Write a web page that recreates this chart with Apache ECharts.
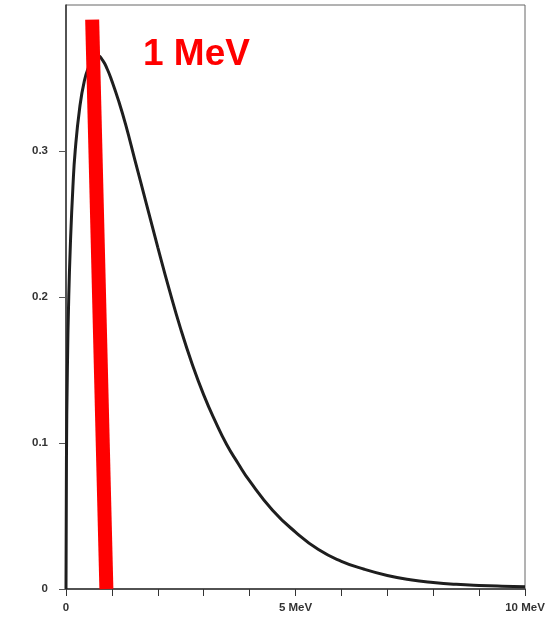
<!DOCTYPE html>
<html>
<head>
<meta charset="utf-8">
<script src="https://cdn.jsdelivr.net/npm/echarts@6/dist/echarts.min.js"></script>
<style>
html,body{margin:0;padding:0;background:#fff;}
#c{width:554px;height:619px;}
</style>
</head>
<body>
<div id="c"></div>
<script>
// Energy (MeV) and spectrum values
const energy = [0, 0.01, 0.03, 0.06, 0.1, 0.15, 0.2, 0.3, 0.4, 0.5, 0.6, 0.7, 0.8, 0.9, 1.0, 1.15, 1.3, 1.5, 1.75, 2.0, 2.25, 2.5, 2.75, 3.0, 3.25, 3.5, 3.75, 4.0, 4.5, 5.0, 5.5, 6.0, 6.5, 7.0, 7.5, 8.0, 8.5, 9.0, 9.5, 10.0];
const spectrum = [0, 0.09, 0.15, 0.20, 0.24, 0.275, 0.30, 0.33, 0.348, 0.358, 0.364, 0.365, 0.362, 0.356, 0.348, 0.334, 0.318, 0.294, 0.264, 0.234, 0.205, 0.178, 0.154, 0.133, 0.115, 0.099, 0.086, 0.074, 0.054, 0.039, 0.027, 0.019, 0.0135, 0.0093, 0.0064, 0.0045, 0.0032, 0.0024, 0.0019, 0.0016];
// Red marker bar (drawn slanted in the picture)
const markerX = [0.57, 0.88];
const markerY = [0.39, 0];
const markerLabel = '1 MeV';
const xTickLabels = {0: '0', 5: '5 MeV', 10: '10 MeV'};
const yTickLabels = {0: '0', 0.1: '0.1', 0.2: '0.2', 0.3: '0.3'};
const yTickValues = [0, 0.1, 0.2, 0.3];

const curveData = energy.map((e, i) => [e, spectrum[i]]);
const markerData = markerX.map((x, i) => [x, markerY[i]]);

const chart = echarts.init(document.getElementById('c'), null, {renderer: 'canvas'});
chart.setOption({
  animation: false,
  backgroundColor: '#fff',
  grid: {left: 66, right: 29, top: 5, bottom: 30, show: true, borderColor: '#666', borderWidth: 1},
  xAxis: {
    type: 'value', min: 0, max: 10, interval: 1,
    splitLine: {show: false},
    axisLine: {lineStyle: {color: '#333', width: 1.5}},
    axisTick: {length: 7, lineStyle: {color: '#333', width: 1}},
    axisLabel: {
      margin: 13, color: '#333', fontWeight: 'bold', fontSize: 11.5,
      fontFamily: 'Liberation Sans, Arial, sans-serif',
      formatter: v => (xTickLabels[Math.round(v * 1000) / 1000] ?? '')
    }
  },
  yAxis: {
    type: 'value', min: 0, max: 0.4, interval: 0.1,
    splitLine: {show: false},
    axisLine: {show: true, lineStyle: {color: '#333', width: 1.5}},
    axisTick: {show: true, length: 7, customValues: yTickValues, lineStyle: {color: '#555', width: 1}},
    axisLabel: {
      margin: 18, color: '#333', fontWeight: 'bold', fontSize: 11.5,
      fontFamily: 'Liberation Sans, Arial, sans-serif',
      formatter: v => (yTickLabels[Math.round(v * 1000) / 1000] ?? '')
    }
  },
  series: [
    {
      type: 'line', data: curveData, smooth: 0.5, showSymbol: false,
      lineStyle: {color: '#1e1e1e', width: 3}, z: 2
    },
    {
      type: 'line', data: markerData, showSymbol: false,
      lineStyle: {color: '#ff0000', width: 14, cap: 'butt'}, z: 3
    }
  ],
  graphic: [{
    type: 'text', left: 143, top: 36, z: 10,
    style: {text: markerLabel, fill: '#ff0000', font: 'bold 37px "Liberation Sans", Arial, sans-serif'}
  }]
});
</script>
</body>
</html>
